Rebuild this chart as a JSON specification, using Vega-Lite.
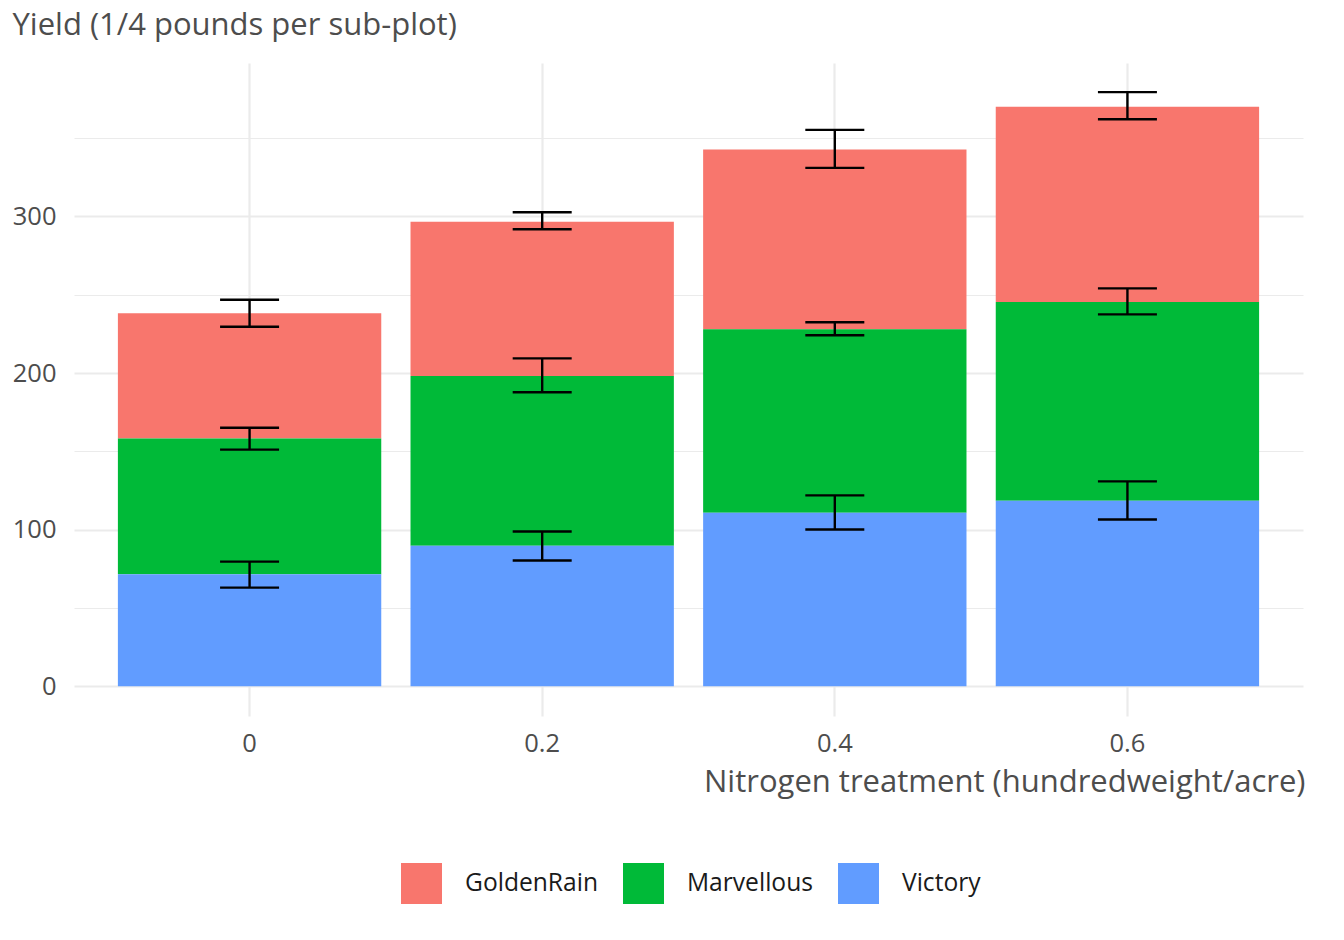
{
  "$schema": "https://vega.github.io/schema/vega-lite/v6.json",
  "width": 1229,
  "height": 653,
  "autosize": {"type": "none"},
  "padding": {"left": 74, "top": 63, "right": 41, "bottom": 224},
  "background": "white",
  "config": {
    "font": "Open Sans",
    "view": {"stroke": null},
    "axis": {"domain": false, "ticks": false, "labelColor": "#4D4D4D", "titleColor": "#4D4D4D", "titleFontWeight": "normal"}
  },
  "datasets": {
    "yield": [
      {"N": "0", "variety": "GoldenRain", "yield": 80.0},
      {"N": "0", "variety": "Marvellous", "yield": 86.7},
      {"N": "0", "variety": "Victory", "yield": 71.5},
      {"N": "0.2", "variety": "GoldenRain", "yield": 98.5},
      {"N": "0.2", "variety": "Marvellous", "yield": 108.5},
      {"N": "0.2", "variety": "Victory", "yield": 89.7},
      {"N": "0.4", "variety": "GoldenRain", "yield": 114.7},
      {"N": "0.4", "variety": "Marvellous", "yield": 117.2},
      {"N": "0.4", "variety": "Victory", "yield": 110.8},
      {"N": "0.6", "variety": "GoldenRain", "yield": 124.8},
      {"N": "0.6", "variety": "Marvellous", "yield": 126.8},
      {"N": "0.6", "variety": "Victory", "yield": 118.5}
    ],
    "errors": [
      {"N": "0", "variety": "GoldenRain", "lo": 229.6, "hi": 246.8},
      {"N": "0", "variety": "Marvellous", "lo": 151.1, "hi": 165.1},
      {"N": "0", "variety": "Victory", "lo": 63.0, "hi": 79.6},
      {"N": "0.2", "variety": "GoldenRain", "lo": 291.8, "hi": 302.7},
      {"N": "0.2", "variety": "Marvellous", "lo": 187.7, "hi": 209.4},
      {"N": "0.2", "variety": "Victory", "lo": 80.3, "hi": 98.8},
      {"N": "0.4", "variety": "GoldenRain", "lo": 331.0, "hi": 355.3},
      {"N": "0.4", "variety": "Marvellous", "lo": 224.1, "hi": 232.4},
      {"N": "0.4", "variety": "Victory", "lo": 100.1, "hi": 121.9},
      {"N": "0.6", "variety": "GoldenRain", "lo": 362.1, "hi": 379.4},
      {"N": "0.6", "variety": "Marvellous", "lo": 237.5, "hi": 254.1},
      {"N": "0.6", "variety": "Victory", "lo": 106.5, "hi": 130.8}
    ]
  },
  "encoding": {
    "x": {
      "field": "N",
      "type": "nominal",
      "sort": ["0", "0.2", "0.4", "0.6"],
      "scale": {"paddingInner": 0.1, "paddingOuter": 0.15},
      "axis": {
        "title": "Nitrogen treatment (hundredweight/acre)",
        "labelAngle": 0,
        "labelFontSize": 25.5,
        "labelBaseline": "middle",
        "labelPadding": 27,
        "bandPosition": 0.5,
        "grid": true,
        "gridColor": "#EBEBEB",
        "gridWidth": 2.2,
        "titleFontSize": 31,
        "titleAnchor": "end",
        "titleAlign": "right",
        "titleBaseline": "middle",
        "titleX": 1231,
        "titleY": 66
      }
    }
  },
  "layer": [
    {
      "data": {"name": "yield"},
      "mark": {"type": "bar", "strokeWidth": 0},
      "encoding": {
        "y": {
          "field": "yield",
          "type": "quantitative",
          "stack": "zero",
          "scale": {"domain": [-19, 398], "nice": false, "zero": false},
          "axis": {
            "title": "Yield (1/4 pounds per sub-plot)",
            "values": [0, 50, 100, 150, 200, 250, 300, 350],
            "labelExpr": "datum.value % 100 === 0 ? datum.label : ''",
            "labelFontSize": 25.5,
            "labelPadding": 18,
            "grid": true,
            "gridColor": "#EBEBEB",
            "gridWidth": {"condition": {"test": "datum.value % 100 === 0", "value": 2.2}, "value": 1.1},
            "titleAngle": 0,
            "titleFontSize": 31,
            "titleAlign": "left",
            "titleBaseline": "middle",
            "titleX": -62,
            "titleY": -38
          }
        },
        "color": {
          "field": "variety",
          "type": "nominal",
          "scale": {"domain": ["GoldenRain", "Marvellous", "Victory"], "range": ["#F8766D", "#00BA38", "#619CFF"]},
          "legend": {
            "title": null,
            "orient": "none",
            "direction": "horizontal",
            "legendX": 327,
            "legendY": 800,
            "padding": 0,
            "symbolType": "square",
            "symbolSize": 1681,
            "symbolStrokeWidth": 0,
            "symbolOpacity": 1,
            "labelFontSize": 24.6,
            "labelColor": "#1A1A1A",
            "labelOffset": 23,
            "columnPadding": 25
          }
        },
        "order": {"field": "variety", "sort": "descending"}
      }
    },
    {
      "data": {"name": "errors"},
      "mark": {"type": "rule", "color": "black", "strokeWidth": 2.4},
      "encoding": {
        "y": {"field": "lo", "type": "quantitative"},
        "y2": {"field": "hi"}
      }
    },
    {
      "data": {"name": "errors"},
      "mark": {"type": "tick", "color": "black", "thickness": 2.4, "size": 59, "opacity": 1},
      "encoding": {"y": {"field": "lo", "type": "quantitative"}}
    },
    {
      "data": {"name": "errors"},
      "mark": {"type": "tick", "color": "black", "thickness": 2.4, "size": 59, "opacity": 1},
      "encoding": {"y": {"field": "hi", "type": "quantitative"}}
    }
  ]
}
